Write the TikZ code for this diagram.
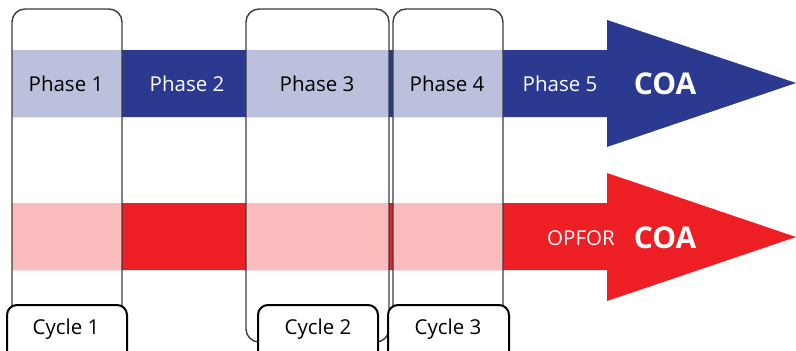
\documentclass[tikz,border=0pt]{standalone}
\usepackage{fontspec}
\setmainfont{Open Sans}
\definecolor{navy}{HTML}{2C3990}
\definecolor{paleblue}{HTML}{BBC1DD}
\definecolor{redc}{HTML}{ED1F24}
\definecolor{pinkc}{HTML}{F9BBBC}
\definecolor{boxgray}{HTML}{3C3C3C}
\begin{document}
\begin{tikzpicture}[x=1pt,y=-1pt,
  cyclebox/.style={draw=boxgray,line width=1.4pt,rounded corners=13pt},
  labelbox/.style={draw=black,line width=2pt,fill=white,rounded corners=10pt},
  phasetxt/.style={inner sep=0pt,font=\fontsize{20.5}{24}\selectfont},
  coatxt/.style={inner sep=0pt,text=white,font=\fontsize{30}{34}\selectfont\bfseries},
  cycletxt/.style={inner sep=0pt,font=\fontsize{20.5}{24}\selectfont}]
\useasboundingbox (0,0) rectangle (796,351);
% blue arrow
\fill[navy] (12,50) -- (607,50) -- (607,20) -- (796,83) -- (607,147) -- (607,117) -- (12,117) -- cycle;
\fill[paleblue] (12,50) rectangle (122,117);
\fill[paleblue] (246,50) rectangle (389,117);
\fill[paleblue] (393,50) rectangle (503,117);
% red arrow
\fill[redc] (12,203) -- (607,203) -- (607,173) -- (796,237) -- (607,301) -- (607,270) -- (12,270) -- cycle;
\fill[pinkc] (12,203) rectangle (122,270);
\fill[pinkc] (246,203) rectangle (389,270);
\fill[pinkc] (393,203) rectangle (503,270);
% cycle boxes
\draw[cyclebox] (12,9) rectangle (122,342);
\draw[cyclebox] (246,9) rectangle (389,342);
\draw[cyclebox] (393,9) rectangle (503,342);
% phase texts
\node[phasetxt] (p1) at (66,84) {Phase 1};
\node[phasetxt,text=white] (p2) at (187,84) {Phase 2};
\node[phasetxt] (p3) at (317,84) {Phase 3};
\node[phasetxt] (p4) at (447,84) {Phase 4};
\node[phasetxt,text=white] (p5) at (560,84) {Phase 5};
\node[coatxt] (coa1) at (665,84) {COA};
\node[phasetxt,text=white] (opfor) at (581,238) {OPFOR};
\node[coatxt] (coa2) at (665,238) {COA};
% cycle labels
\draw[labelbox] (7,305) rectangle (127,362);
\draw[labelbox] (258,305) rectangle (378,362);
\draw[labelbox] (388,305) rectangle (509,362);
\node[cycletxt] (c1) at (66,329) {Cycle 1};
\node[cycletxt] (c2) at (318,329) {Cycle 2};
\node[cycletxt] (c3) at (448,329) {Cycle 3};
\end{tikzpicture}
\end{document}
